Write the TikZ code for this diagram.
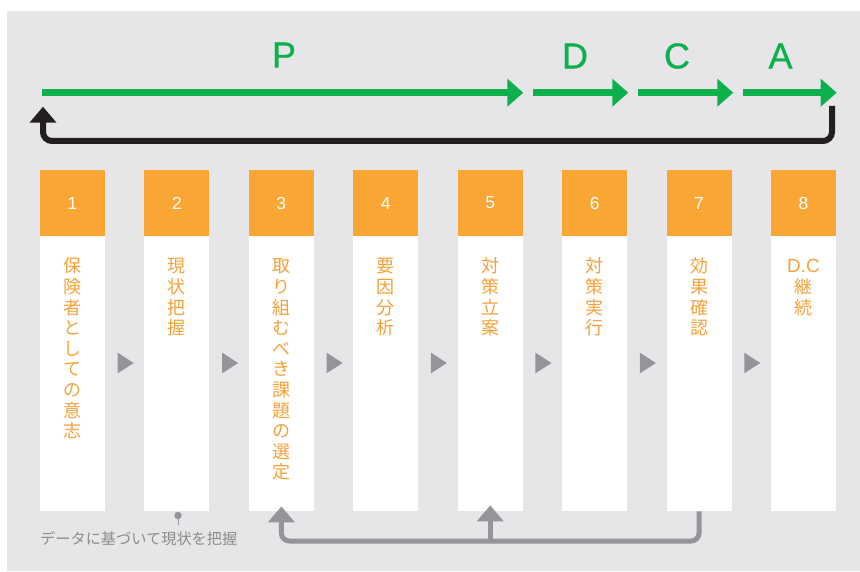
\documentclass[tikz,border=0pt]{standalone}
\usepackage{fontspec}
\setmainfont{Liberation Sans}
\newfontfamily\jpfont{Noto Sans CJK JP}
\newfontfamily\pdcafont[FakeBold=0.8]{Liberation Sans}
\usetikzlibrary{arrows.meta}
\definecolor{bgc}{HTML}{E6E6E8}
\definecolor{orng}{HTML}{F9A634}
\definecolor{otext}{HTML}{F6A23C}
\definecolor{grn}{HTML}{0DB04B}
\definecolor{blk}{HTML}{231F20}
\definecolor{gry}{HTML}{939598}
\definecolor{notec}{HTML}{8C8C8E}
\begin{document}
\begin{tikzpicture}[x=1pt,y=-1pt,
  head/.style={fill=orng, minimum width=65pt, minimum height=66pt, inner sep=0pt, text=white, font=\fontsize{17.5}{17.5}\selectfont},
  body/.style={fill=white, minimum width=65pt, minimum height=275pt, inner sep=0pt},
  ch/.style={inner sep=0pt, text=otext, font=\jpfont\fontsize{18}{18}\selectfont, text height=15.84pt, text depth=2.16pt},
  letter/.style={inner sep=0pt, text=grn, font=\pdcafont\fontsize{36}{36}\selectfont},
  garrow/.style={draw=grn, line width=6.7pt, -{Triangle[length=16pt,width=27pt]}},
  barrow/.style={draw=blk, line width=6pt, rounded corners=9pt, -{Triangle[length=16pt,width=26pt]}},
  grarrow/.style={draw=gry, line width=5pt, rounded corners=8pt, -{Triangle[length=16pt,width=26pt]}},
  tri/.style={fill=gry}
]
\useasboundingbox (0,0) rectangle (860,572);
\fill[bgc] (7,11) rectangle (860,571);

% columns
\foreach \i/\chars in {1/{保,険,者,と,し,て,の,意,志},2/{現,状,把,握},3/{取,り,組,む,べ,き,課,題,の,選,定},4/{要,因,分,析},5/{対,策,立,案},6/{対,策,実,行},7/{効,果,確,認},8/{{\rmfamily\fontsize{19}{19}\selectfont D.C},継,続}}{
  \pgfmathsetmacro\xc{40+104.43*(\i-1)+32.5}
  \node[head] (h\i) at (\xc,203) {\i};
  \node[body, anchor=north] (b\i) at (\xc,236) {};
  \foreach \c [count=\j] in \chars {
    \node[ch] (t\i-\j) at (\xc,{266+20.6*(\j-1)}) {\c};
  }
}

% triangles between boxes
\foreach \i in {1,...,7}{
  \pgfmathsetmacro\xt{40+104.43*(\i-1)+65+12.7}
  \fill[tri] (\xt,352.7) -- (\xt+16,363) -- (\xt,373.3) -- cycle;
}

% PDCA letters
\node[letter] (lp) at (284,55) {P};
\node[letter] (ld) at (575,56) {D};
\node[letter] (lc) at (677,56) {C};
\node[letter] (la) at (780.5,56) {A};

% green arrows
\coordinate (p0) at (42,92.7);
\coordinate (p1) at (523.3,92.7);
\coordinate (d0) at (533.3,92.7);
\coordinate (d1) at (628.3,92.7);
\coordinate (c0) at (638.3,92.7);
\coordinate (c1) at (733.3,92.7);
\coordinate (a0) at (742.7,92.7);
\coordinate (a1) at (836.7,92.7);
\draw[garrow] (p0) -- (p1);
\draw[garrow] (d0) -- (d1);
\draw[garrow] (c0) -- (c1);
\draw[garrow] (a0) -- (a1);

% black return arrow
\coordinate (r0) at (832,106);
\coordinate (rb) at (832,141);
\coordinate (lb) at (43,141);
\coordinate (l1) at (43,106.7);
\draw[barrow] (r0) -- (rb) -- (lb) -- (l1);

% gray feedback arrows
\coordinate (gl) at (0,541);
\draw[grarrow] (b7.south) -- (b7.south |- gl) -| ([yshift=5pt]b3.south);
\draw[draw=gry, line width=5pt, -{Triangle[length=16pt,width=26pt]}] (b5.south |- gl) -- ([yshift=6pt]b5.south);

% annotation
\node[circle, fill=gry, inner sep=0pt, minimum size=7.5pt] (dot) at (178,515.5) {};
\coordinate (dl) at (178,525);
\draw[gry, line width=1pt] (dot) -- (dl);
\node[anchor=west, inner sep=0pt, text=notec, font=\jpfont\fontsize{15.2}{15.2}\selectfont, text height=13.4pt, text depth=1.8pt] (note) at (40,539) {データに基づいて現状を把握};
\end{tikzpicture}
\end{document}
